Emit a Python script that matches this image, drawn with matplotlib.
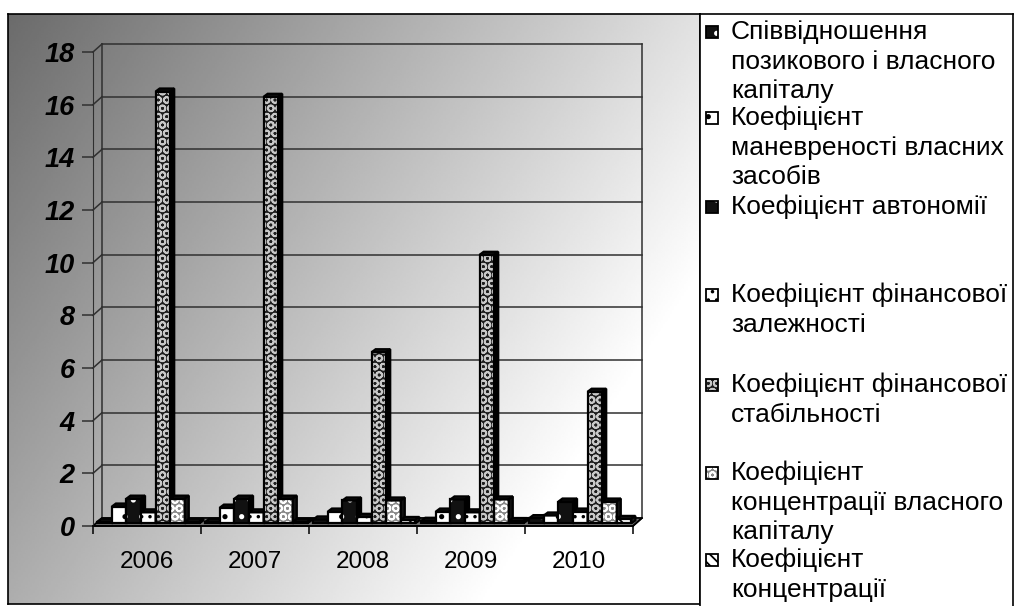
import numpy as np
import matplotlib.pyplot as plt
from matplotlib.patches import Rectangle, Polygon

years = ['2006', '2007', '2008', '2009', '2010']
debt_equity = [0.06, 0.06, 0.15, 0.10, 0.20]
maneuver = [0.64, 0.60, 0.45, 0.45, 0.30]
autonomy = [0.94, 0.94, 0.87, 0.91, 0.83]
fin_dependence = [0.42, 0.42, 0.25, 0.42, 0.45]
fin_stability = [16.4, 16.2, 6.5, 10.2, 5.0]
equity_conc = [0.94, 0.94, 0.87, 0.91, 0.83]
borrowed_conc = [0.06, 0.06, 0.13, 0.09, 0.17]

labels = ['Співвідношення\nпозикового і власного\nкапіталу',
          'Коефіцієнт\nманевреності власних\nзасобів',
          'Коефіцієнт автономії',
          'Коефіцієнт фінансової\nзалежності',
          'Коефіцієнт фінансової\nстабільності',
          'Коефіцієнт\nконцентрації власного\nкапіталу',
          'Коефіцієнт\nконцентрації']
series = [debt_equity, maneuver, autonomy, fin_dependence,
          fin_stability, equity_conc, borrowed_conc]

# (face, hatch colour, hatch, side colour)
styles = [('#111111', 'white', '.', '#000000'),
          ('white', 'black', '.', '#222222'),
          ('#111111', 'white', '.', '#000000'),
          ('white', 'black', '..', '#222222'),
          ('#1e1e1e', '#c8c8c8', 'OO', '#000000'),
          ('#8a8a8a', 'white', 'OO', '#111111'),
          ('white', 'black', '\\\\\\', '#222222')]

plt.rcParams['font.family'] = ['Liberation Sans', 'DejaVu Sans']
plt.rcParams['hatch.linewidth'] = 1.3

W, H = 1014, 606
fig = plt.figure(figsize=(W / 100, H / 100), dpi=100)

# chart area with diagonal grey gradient
bg = fig.add_axes([8 / W, 2 / H, 692 / W, 590 / H])
xx, yy = np.meshgrid(np.linspace(0, 1, 300), np.linspace(0, 1, 300))
shade = 0.42 + 0.58 * np.clip(0.8 * xx + 0.45 * yy, 0, 1)
bg.imshow(shade, cmap='gray', vmin=0, vmax=1, aspect='auto',
          extent=[0, 1, 1, 0])
bg.set_xticks([])
bg.set_yticks([])
for s in bg.spines.values():
    s.set_linewidth(1.2)

# legend panel
lg = fig.add_axes([700 / W, -0.01, 313 / W, (H - 14) / H + 0.01])
lg.set_xlim(700, 1013)
lg.set_ylim(H + 6, 14)
lg.set_xticks([])
lg.set_yticks([])
for s in lg.spines.values():
    s.set_linewidth(1.2)

first_line = [32, 118, 207, 295, 385, 473, 560]
line_step = 29.5
for lab, y0, (fc, hc, ht, sc) in zip(labels, first_line, styles):
    lg.add_patch(Rectangle((706, y0 - 6), 12, 12, facecolor=fc,
                           edgecolor=hc, hatch=ht, lw=0))
    lg.add_patch(Rectangle((706, y0 - 6), 12, 12, fill=False,
                           edgecolor='black', lw=1.3))
    for k, line in enumerate(lab.split('\n')):
        lg.text(731, y0 + k * line_step, line, fontsize=19,
                va='center', ha='left')

# plot area
ax = fig.add_axes([93 / W, (H - 526) / H, 540 / W, 474 / H])
ax.patch.set_alpha(0)
ax.set_xlim(-0.5, 4.5)
ax.set_ylim(0, 18)
px = 108.0
py = 474 / 18
DX, DY = 9 / px, 8 / py          # wall depth
BDX, BDY = 4 / px, 3 / py        # bar depth

# back wall grid + side connectors
for v in range(0, 19, 2):
    ax.plot([-0.5 + DX, 4.5 + DX], [v + DY, v + DY], color='#303030',
            lw=1.1, clip_on=False, zorder=1)
    ax.plot([-0.5, -0.5 + DX], [v, v + DY], color='#303030', lw=1.1,
            clip_on=False, zorder=1)
ax.plot([-0.5 + DX] * 2, [DY, 18 + DY], color='#303030', lw=1.1,
        clip_on=False, zorder=1)
ax.plot([4.5 + DX] * 2, [DY, 18 + DY], color='#303030', lw=1.1,
        clip_on=False, zorder=1)

# floor
ax.add_patch(Polygon([(-0.5, 0), (4.5, 0), (4.5 + DX, DY), (-0.5 + DX, DY)],
                     closed=True, facecolor='#707070', edgecolor='black',
                     lw=1.2, clip_on=False, zorder=2))

bw = 0.135
z = 3
for g in range(len(years)):
    for i, vals in enumerate(series):
        fc, hc, ht, sc = styles[i]
        v = vals[g]
        x0 = g - 0.46 + i * bw
        b = 0.1
        top = b + v
        ax.add_patch(Rectangle((x0, b), bw, v, facecolor=fc, edgecolor=hc,
                               hatch=ht, lw=0, zorder=z, clip_on=False))
        ax.add_patch(Rectangle((x0, b), bw, v, fill=False, edgecolor='black',
                               lw=1.6, zorder=z + 0.1, clip_on=False))
        ax.add_patch(Polygon([(x0, top), (x0 + BDX, top + BDY),
                              (x0 + bw + BDX, top + BDY), (x0 + bw, top)],
                             closed=True, facecolor='#111111',
                             edgecolor='black', lw=1.6, zorder=z + 0.1,
                             clip_on=False))
        ax.add_patch(Polygon([(x0 + bw, b), (x0 + bw + BDX, b + BDY),
                              (x0 + bw + BDX, top + BDY), (x0 + bw, top)],
                             closed=True, facecolor=sc, edgecolor='black',
                             lw=1.6, zorder=z + 0.1, clip_on=False))
        z += 0.2

for s in ['top', 'right']:
    ax.spines[s].set_visible(False)
ax.spines['left'].set_color('#303030')
ax.spines['bottom'].set_color('black')
ax.spines['bottom'].set_linewidth(1.2)
ax.plot([4.5, 4.5 + DX], [0, DY], color='black', lw=1.2, clip_on=False)

ax.set_yticks(range(0, 19, 2))
ax.set_yticklabels([str(v) for v in range(0, 19, 2)], fontsize=19.5,
                   fontweight='bold', fontstyle='italic')
ax.tick_params(axis='y', length=8, width=1.1, color='#303030', pad=5)
ax.set_xticks(range(len(years)))
ax.set_xticklabels(years, fontsize=17.5)
ax.tick_params(axis='x', length=0, pad=18)
ax.set_xticks(np.arange(-0.5, 5, 1), minor=True)
ax.tick_params(axis='x', which='minor', length=6, width=1.1)

fig.savefig('out.png', dpi=100)
